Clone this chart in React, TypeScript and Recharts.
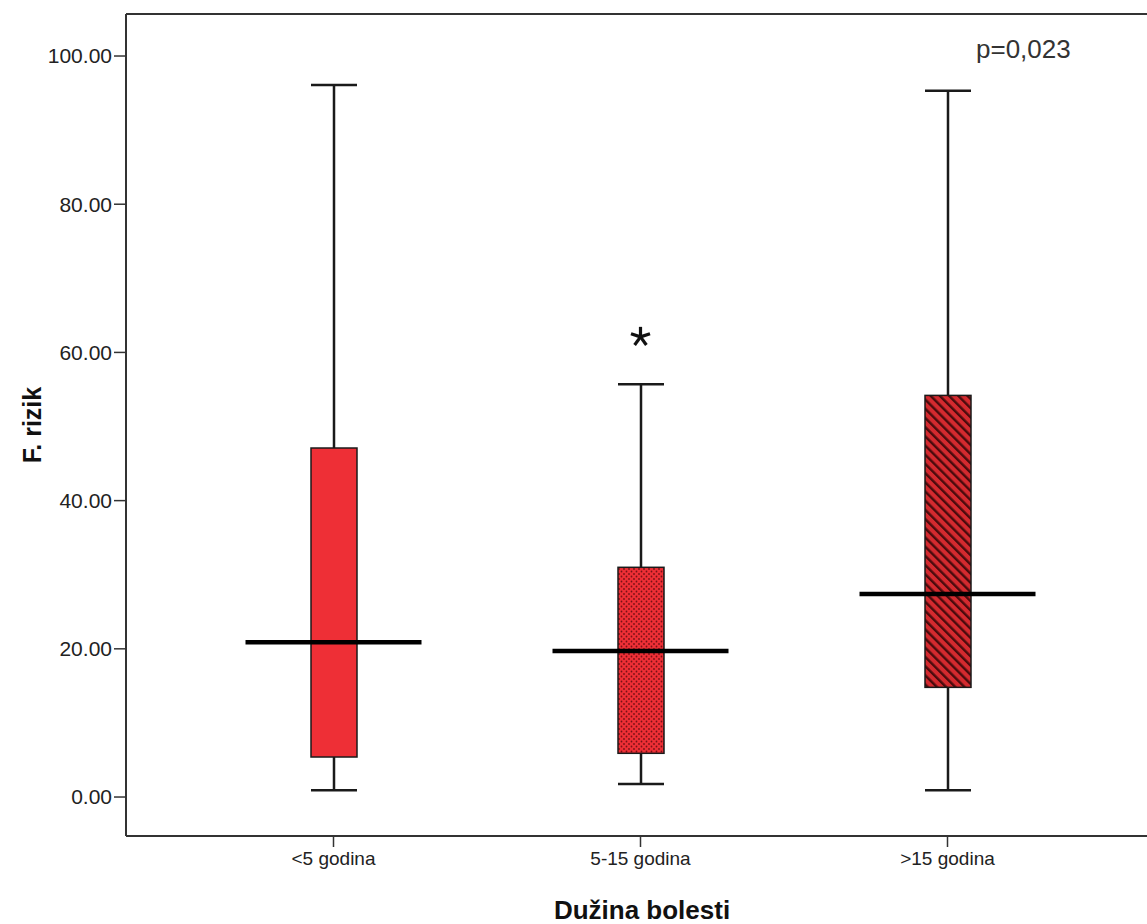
import React from "react";
import { ComposedChart, Bar, Line, XAxis, YAxis, ReferenceLine } from "recharts";

const categories = ["<5 godina", "5-15 godina", ">15 godina"];
const whiskerLow = [0.9, 1.75, 0.9];
const q1 = [5.4, 5.9, 14.8];
const median = [20.9, 19.7, 27.4];
const q3 = [47.1, 31.0, 54.2];
const whiskerHigh = [96.1, 55.7, 95.3];
const outliers: (number | null)[] = [null, 62.1, null];
const yTicks = [0, 20, 40, 60, 80, 100];
const yMin = -5.26;
const yMax = 105.67;

const data = categories.map((c, i) => ({
  name: c,
  whisker: [whiskerLow[i], whiskerHigh[i]],
  box: [q1[i], q3[i]],
  median: median[i],
  outlier: outliers[i],
}));

const RED = "#ee2f36";
const FONT = "'Liberation Sans', Arial, sans-serif";
const fills = ["url(#plain)", "url(#dots)", "url(#hatch)"];

const WhiskerShape = (p: any) => {
  const { x, y, width, height } = p;
  const top = Math.min(y, y + height);
  const bot = Math.max(y, y + height);
  const cx = x + width / 2;
  return (
    <g stroke="#1a1a1a" strokeWidth={2.5}>
      <line x1={cx} x2={cx} y1={top} y2={bot} />
      <line x1={x} x2={x + width} y1={top} y2={top} />
      <line x1={x} x2={x + width} y1={bot} y2={bot} />
    </g>
  );
};

const BoxShape = (p: any) => {
  const { x, y, width, height, index } = p;
  const top = Math.min(y, y + height);
  return (
    <rect x={x} y={top} width={width} height={Math.abs(height)}
      fill={fills[index]} stroke="#1a1a1a" strokeWidth={1.5} />
  );
};

const MedianDot = (p: any) => {
  const { cx, cy, index } = p;
  if (cy == null || isNaN(cy)) return <g key={index} />;
  return <line key={index} x1={cx - 88} x2={cx + 88} y1={cy} y2={cy} stroke="#000" strokeWidth={4.5} />;
};

const StarDot = (p: any) => {
  const { cx, cy, index } = p;
  if (cy == null || isNaN(cy)) return <g key={index} />;
  const arms = [-90, -18, 54, 126, 198].map((a) => {
    const r = (a * Math.PI) / 180;
    return <line key={a} x1={cx} y1={cy} x2={cx + 10 * Math.cos(r)} y2={cy + 10 * Math.sin(r)} />;
  });
  return <g key={index} stroke="#111" strokeWidth={3.2} strokeLinecap="butt">{arms}</g>;
};

export default function App() {
  const pad = { left: 54, right: 46 };
  return (
    <div style={{ position: "absolute", left: 0, top: 0, width: 1147, height: 924, background: "#fff", overflow: "hidden" }}>
      <ComposedChart width={1147} height={924} data={data} margin={{ top: 14, right: 0, bottom: 0, left: 0 }}>
        <defs>
          <pattern id="plain" width="4" height="4" patternUnits="userSpaceOnUse">
            <rect width="4" height="4" fill={RED} />
          </pattern>
          <pattern id="dots" width="5" height="5" patternUnits="userSpaceOnUse">
            <rect width="5" height="5" fill={RED} />
            <circle cx="1.5" cy="1.5" r="0.9" fill="#7a1014" />
            <circle cx="4" cy="4" r="0.9" fill="#7a1014" />
          </pattern>
          <pattern id="hatch" width="6.5" height="6.5" patternUnits="userSpaceOnUse" patternTransform="rotate(-45)">
            <rect width="6.5" height="6.5" fill="#d42a2f" />
            <rect width="2.4" height="6.5" fill="#4a0b0d" />
          </pattern>
        </defs>
        <XAxis xAxisId="cat" dataKey="name" type="category" padding={pad} height={88}
          axisLine={{ stroke: "#333", strokeWidth: 2 }} tickLine={{ stroke: "#333", strokeWidth: 1.5 }}
          tickSize={11} tickMargin={5}
          tick={{ fontFamily: FONT, fontSize: 19, fill: "#222" }} />
        <XAxis xAxisId="b" dataKey="name" type="category" padding={pad} height={0} hide />
        <YAxis domain={[yMin, yMax]} ticks={yTicks} width={126} allowDataOverflow
          axisLine={{ stroke: "#333", strokeWidth: 2 }} tickLine={{ stroke: "#333", strokeWidth: 1.5 }}
          tickSize={12} tickMargin={2}
          tickFormatter={(v: number) => v.toFixed(2)}
          tick={{ fontFamily: FONT, fontSize: 21, fill: "#222" }} />
        <ReferenceLine xAxisId="cat" y={yMax} stroke="#333" strokeWidth={2} />
        <Bar xAxisId="cat" dataKey="whisker" barSize={46} shape={WhiskerShape} isAnimationActive={false} />
        <Bar xAxisId="b" dataKey="box" barSize={46} shape={BoxShape} isAnimationActive={false} />
        <Line xAxisId="cat" dataKey="median" stroke="none" dot={MedianDot} activeDot={false} isAnimationActive={false} />
        <Line xAxisId="cat" dataKey="outlier" stroke="none" dot={StarDot} activeDot={false} isAnimationActive={false} />
      </ComposedChart>
      <div style={{ position: "absolute", left: 976, top: 34, fontFamily: FONT, fontSize: 26, color: "#333" }}>p=0,023</div>
      <div style={{ position: "absolute", left: 0, top: 895, width: 1284, textAlign: "center", fontFamily: FONT, fontSize: 26, fontWeight: "bold", color: "#111" }}>Dužina bolesti</div>
      <div style={{ position: "absolute", left: 32, top: 425, transform: "translate(-50%, -50%) rotate(-90deg)", whiteSpace: "nowrap", fontFamily: FONT, fontSize: 25, fontWeight: "bold", color: "#111" }}>F. rizik</div>
    </div>
  );
}
